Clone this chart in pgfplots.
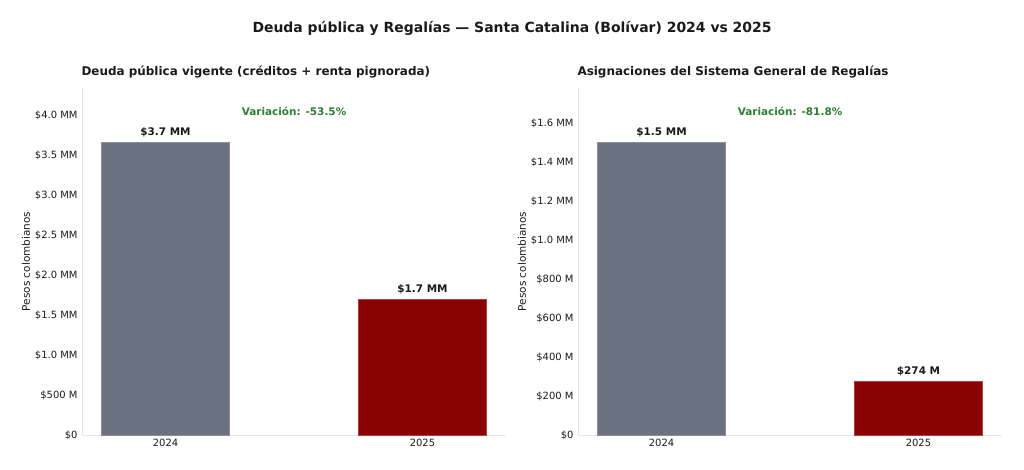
\documentclass[border=0pt]{standalone}
\usepackage{pgfplots}
\pgfplotsset{compat=1.18}
\usepackage{fontspec}
\setmainfont{DejaVu Sans}
\definecolor{barGray}{HTML}{6B7280}
\definecolor{barRed}{HTML}{8B0000}
\definecolor{varGreen}{HTML}{2E7D32}
\definecolor{spine}{HTML}{E6E6E6}
\definecolor{txt}{HTML}{1A1A1A}
\begin{document}
\begin{tikzpicture}
\path[use as bounding box] (0bp,0bp) rectangle (1024bp,470bp);
\pgfplotsset{
  panel/.style={
    scale only axis,
    width=424bp, height=347bp,
    anchor=south west,
    axis x line*=bottom, axis y line*=left,
    axis line style={spine, line width=1bp},
    xmin=-0.325, xmax=1.325,
    xtick={0,1}, xticklabels={2024,2025},
    major tick length=0pt,
    tick style={draw=none},
    ticklabel style={font=\fontsize{10}{12}\selectfont, text=txt},
    xticklabel style={yshift=-1bp},
    yticklabel style={xshift=-1bp},
    ylabel={Pesos colombianos},
    ylabel style={font=\fontsize{10.5}{12}\selectfont, text=txt, yshift=-2bp},
    title style={font=\bfseries\fontsize{12}{14}\selectfont, text=txt, at={(rel axis cs:0,1)}, anchor=base west, yshift=7bp, xshift=-4bp},
    nodes near coords style={font=\bfseries\fontsize{10.5}{12}\selectfont, text=txt, yshift=1.5bp},
    clip=false,
  },
}
\node[font=\bfseries\fontsize{14}{16}\selectfont, text=txt] at (512bp,442bp) {Deuda pública y Regalías — Santa Catalina (Bolívar) 2024 vs 2025};

\begin{axis}[panel, at={(82bp,35bp)},
  title={Deuda pública vigente (créditos + renta pignorada)},
  ymin=0, ymax=4.3375,
  ytick={0,0.5,1,1.5,2,2.5,3,3.5,4},
  yticklabels={\$0,\$500 M,\$1.0 MM,\$1.5 MM,\$2.0 MM,\$2.5 MM,\$3.0 MM,\$3.5 MM,\$4.0 MM},
]
\addplot[ybar, bar width=0.5, bar shift=0pt, fill=barGray, draw=barGray!80!white, line width=0.8bp,
  nodes near coords={\$3.7 MM}] coordinates {(0,3.66)};
\addplot[ybar, bar width=0.5, bar shift=0pt, fill=barRed, draw=barRed!75!white, line width=0.8bp,
  nodes near coords={\$1.7 MM}] coordinates {(1,1.70)};
\node[font=\bfseries\fontsize{10.5}{12}\selectfont, text=varGreen] at (rel axis cs:0.5,0.934) {Variación: -53.5\%};
\end{axis}

\begin{axis}[panel, at={(578bp,35bp)},
  title={Asignaciones del Sistema General de Regalías},
  ymin=0, ymax=1.7795,
  ytick={0,0.2,0.4,0.6,0.8,1.0,1.2,1.4,1.6},
  yticklabels={\$0,\$200 M,\$400 M,\$600 M,\$800 M,\$1.0 MM,\$1.2 MM,\$1.4 MM,\$1.6 MM},
]
\addplot[ybar, bar width=0.5, bar shift=0pt, fill=barGray, draw=barGray!80!white, line width=0.8bp,
  nodes near coords={\$1.5 MM}] coordinates {(0,1.503)};
\addplot[ybar, bar width=0.5, bar shift=0pt, fill=barRed, draw=barRed!75!white, line width=0.8bp,
  nodes near coords={\$274 M}] coordinates {(1,0.274)};
\node[font=\bfseries\fontsize{10.5}{12}\selectfont, text=varGreen] at (rel axis cs:0.5,0.934) {Variación: -81.8\%};
\end{axis}
\end{tikzpicture}
\end{document}
